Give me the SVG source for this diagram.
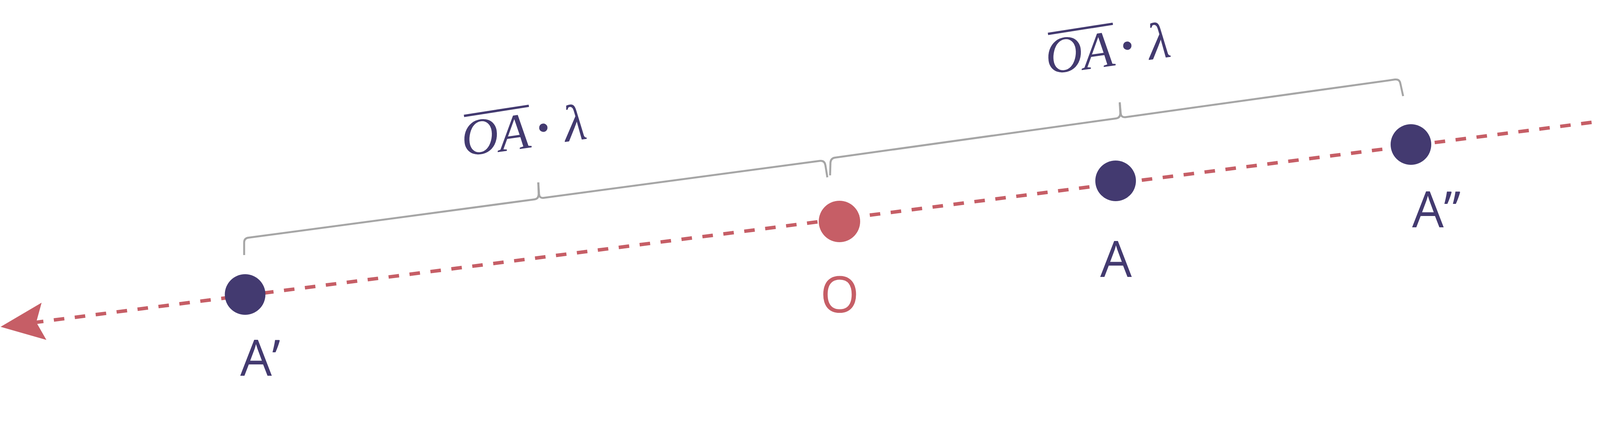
<svg xmlns="http://www.w3.org/2000/svg" width="4400" height="1083" viewBox="0 0 4400 1083">
<defs>
<style>
.axis{fill:none;stroke:#c65e66;stroke-width:9;stroke-dasharray:27 27;stroke-dashoffset:8.6}
.brace{fill:none;stroke:#a6a6a6;stroke-width:5;stroke-linejoin:round;stroke-linecap:butt}
.pt{fill:#433a70}
.origin{fill:#c65e66}
.head{fill:#c65e66}
.lbl{font-family:"Open Sans","Noto Sans","Liberation Sans",sans-serif;font-size:128px;fill:#433a70}
.lblo{font-family:"Open Sans","Noto Sans","Liberation Sans",sans-serif;font-size:128px;fill:#c65e66}
.math{font-family:"Liberation Serif","DejaVu Serif",serif;font-style:italic;font-size:132px;fill:#433a70}
.mdot{font-family:"Liberation Serif","DejaVu Serif",serif;font-weight:bold;font-size:132px;fill:#433a70}
.bar{stroke:#433a70;stroke-width:6}
</style>
<path id="head" class="head" d="M92,0 L-20,-48 L0,0 L-20,48 Z"/>
</defs>
<rect width="4400" height="1083" fill="#ffffff"/>
<g id="connectors">
<line class="axis" x1="92.8" y1="825.1" x2="4306.8" y2="283.4"/>
<use href="#head" transform="translate(4306.8,283.4) rotate(-7.33)"/>
<use href="#head" transform="translate(92.8,825.1) rotate(172.67)"/>
<path class="brace" d="M625 653 L625 621 Q625 610 636 608.6 L1368 510.5 Q1379 509 1379 497 L1378 467"/>
<path class="brace" d="M1378 467 L1380 497 Q1381 508 1392 506.5 L2098 412 Q2111 410.5 2113 423 L2118 454"/>
<path class="brace" d="M2125 449 L2126 416 Q2127 405 2138 403.5 L2857 303.2 Q2868 301.7 2868 290 L2866.5 262"/>
<path class="brace" d="M2866.5 262 L2869 290 Q2870 301.4 2881 299.9 L3571 203.6 Q3583 202 3585 214 L3592 246"/>
</g>
<g id="node-A1">
<circle class="pt" cx="627.5" cy="754" r="52"/>
<text class="lbl" x="615" y="962">A’</text>
</g>
<g id="node-O">
<circle class="origin" cx="2149" cy="567" r="53"/>
<text class="lblo" x="2149.5" y="800" text-anchor="middle">O</text>
</g>
<g id="node-A">
<circle class="pt" cx="2856" cy="463" r="52"/>
<text class="lbl" x="2857" y="709" text-anchor="middle">A</text>
</g>
<g id="node-A2">
<circle class="pt" cx="3612" cy="370" r="52"/>
<text class="lbl" x="3615" y="582">A’’</text>
</g>
<g id="label-lower" transform="translate(1200,398) rotate(-8)">
<line class="bar" x1="2" y1="-102" x2="170" y2="-104.5"/>
<text class="math" x="35" y="0" text-anchor="middle">O</text>
<text class="math" x="122" y="2" text-anchor="middle">A</text>
<text class="mdot" x="199" y="0" text-anchor="middle">·</text>
<text class="math" x="280" y="0" text-anchor="middle">λ</text>
</g>
<g id="label-upper" transform="translate(2695,188) rotate(-8)">
<line class="bar" x1="2" y1="-102" x2="170" y2="-104.5"/>
<text class="math" x="35" y="0" text-anchor="middle">O</text>
<text class="math" x="122" y="2" text-anchor="middle">A</text>
<text class="mdot" x="199" y="0" text-anchor="middle">·</text>
<text class="math" x="280" y="0" text-anchor="middle">λ</text>
</g>
</svg>
